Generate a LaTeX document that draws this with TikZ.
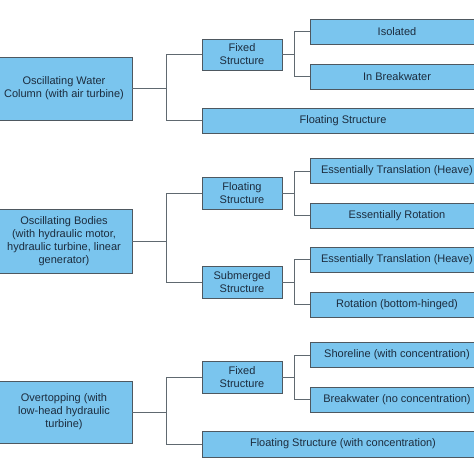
\documentclass[tikz,border=0pt]{standalone}
\usepackage{fontspec}
\setmainfont{Liberation Sans}
\definecolor{boxfill}{RGB}{122,197,238}
\definecolor{boxline}{RGB}{78,88,96}
\definecolor{boxtext}{RGB}{28,44,62}
\tikzset{
  wbox/.style={draw=boxline, line width=0.8pt, fill=boxfill, text=boxtext,
    font=\fontsize{11}{13}\selectfont, align=center, inner sep=0pt},
  lvone/.style={wbox, minimum width=136pt},
  lvtwo/.style={wbox, minimum width=80pt},
  lvthree/.style={wbox, minimum width=174pt, minimum height=25pt,
    path picture={\draw[boxline!60!black, line width=2.4pt]
      (path picture bounding box.south west) -- (path picture bounding box.north west);}},
  wline/.style={draw=boxline!90!white, line width=0.9pt}
}
\begin{document}
\begin{tikzpicture}[x=1pt,y=-1pt]
\useasboundingbox (0,0) rectangle (474,474);
\clip (0,0) rectangle (474,474);
\fill[white] (0,0) rectangle (474,474);
\node[lvone, minimum height=63pt] (owc) at (64,88.5) {Oscillating Water\\Column (with air turbine)};
\node[lvone, minimum height=64pt] (ob) at (64,241) {Oscillating Bodies\\(with hydraulic motor,\\hydraulic turbine, linear\\generator)};
\node[lvone, minimum height=62pt] (ovt) at (64,412) {Overtopping (with\\low-head hydraulic\\turbine)};
\node[lvtwo, minimum height=31pt] (owcfix) at (242,54.5) {Fixed\\Structure};
\node[wbox, minimum width=282pt, minimum height=25pt] (owcflt) at (343,120.5) {Floating Structure};
\node[lvtwo, minimum height=32pt] (obflt) at (242,193) {Floating\\Structure};
\node[lvtwo, minimum height=32pt] (obsub) at (242,282) {Submerged\\Structure};
\node[lvtwo, minimum height=32pt] (ovtfix) at (242,377) {Fixed\\Structure};
\node[wbox, minimum width=282pt, minimum height=26pt] (ovtflt) at (343,444) {Floating Structure (with concentration)};
\node[lvthree] (iso) at (397,31.5) {Isolated};
\node[lvthree] (inbrk) at (397,76.5) {In Breakwater};
\node[lvthree] (ettop) at (397,171) {Essentially Translation (Heave)};
\node[lvthree] (errot) at (397,215.5) {Essentially Rotation};
\node[lvthree] (etsub) at (397,259.5) {Essentially Translation (Heave)};
\node[lvthree] (rotsub) at (397,304.5) {Rotation (bottom-hinged)};
\node[lvthree] (shore) at (397,355) {Shoreline (with concentration)};
\node[lvthree] (brkw) at (397,399.5) {Breakwater (no concentration)};
\draw[wline] (owc.east) -- ++(34,0) |- (owcfix.west);
\draw[wline] (owc.east) -- ++(34,0) |- (owcflt.west);
\draw[wline] (ob.east) -- ++(34,0) |- (obflt.west);
\draw[wline] (ob.east) -- ++(34,0) |- (obsub.west);
\draw[wline] (ovt.east) -- ++(34,0) |- (ovtfix.west);
\draw[wline] (ovt.east) -- ++(34,0) |- (ovtflt.west);
\draw[wline] (owcfix.east) -- ++(12,0) |- (iso.west);
\draw[wline] (owcfix.east) -- ++(12,0) |- (inbrk.west);
\draw[wline] (obflt.east) -- ++(12,0) |- (ettop.west);
\draw[wline] (obflt.east) -- ++(12,0) |- (errot.west);
\draw[wline] (obsub.east) -- ++(12,0) |- (etsub.west);
\draw[wline] (obsub.east) -- ++(12,0) |- (rotsub.west);
\draw[wline] (ovtfix.east) -- ++(12,0) |- (shore.west);
\draw[wline] (ovtfix.east) -- ++(12,0) |- (brkw.west);
\end{tikzpicture}
\end{document}
